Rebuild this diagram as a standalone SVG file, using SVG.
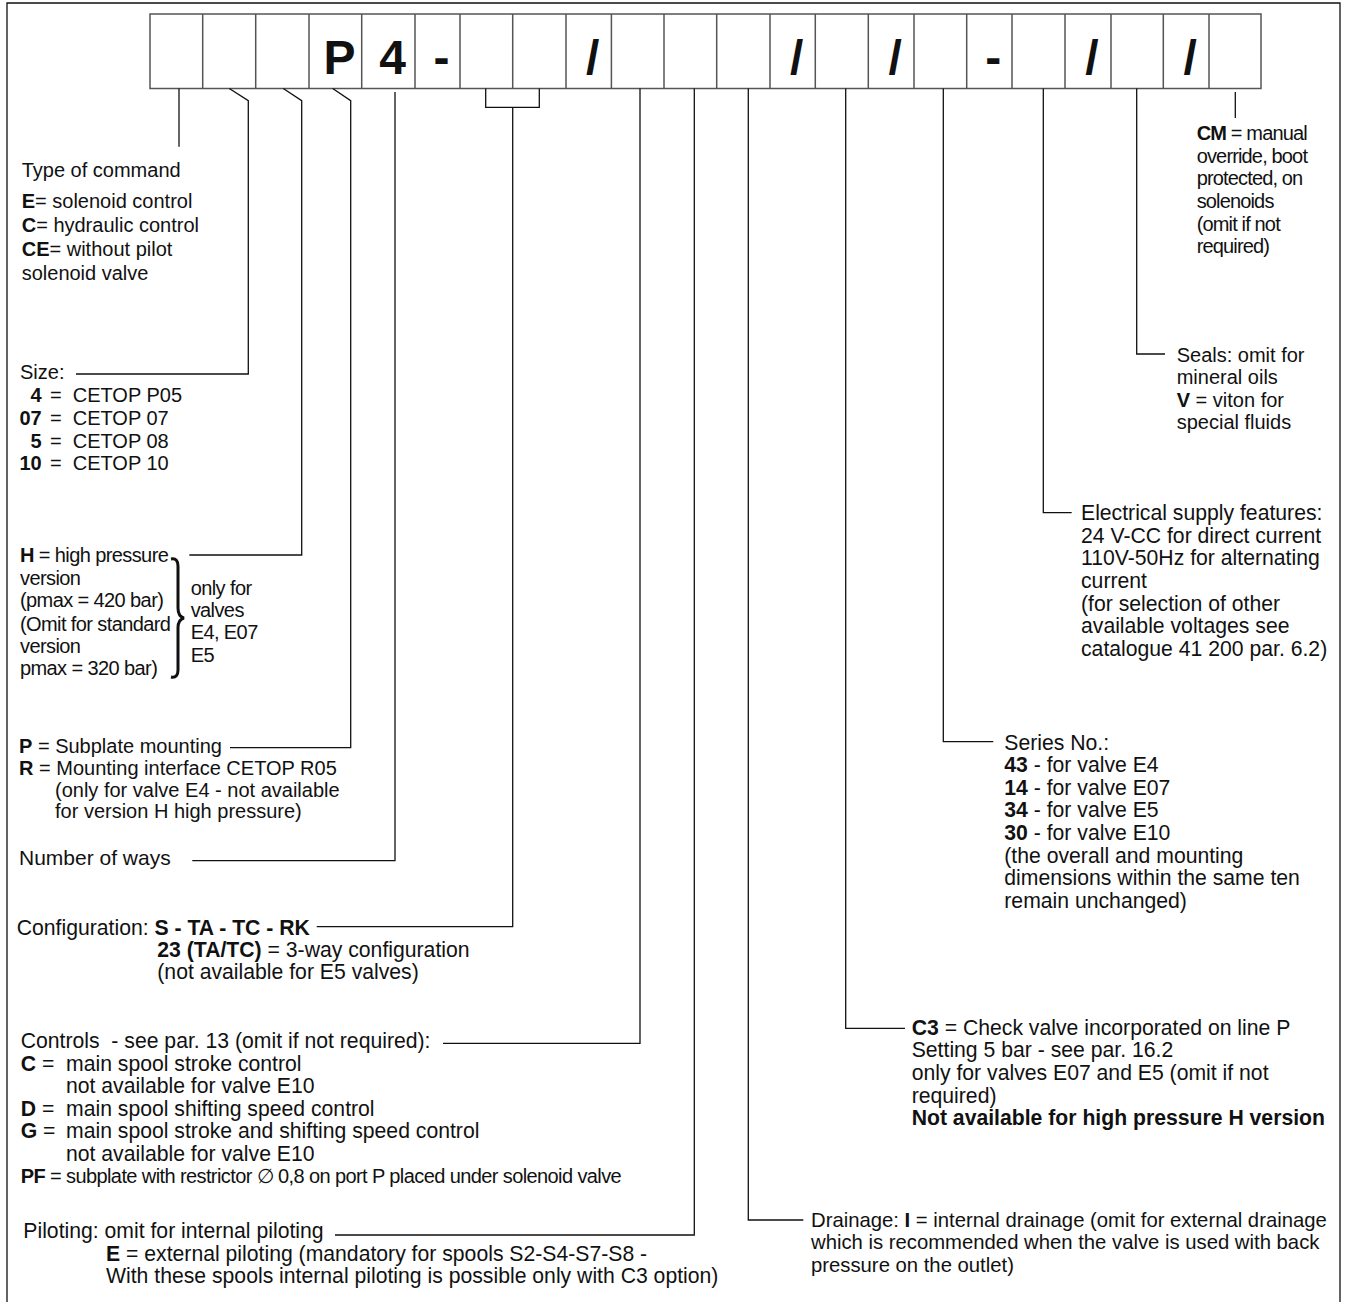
<svg xmlns="http://www.w3.org/2000/svg" width="1345" height="1302" viewBox="0 0 1345 1302">
<style>
text{font-family:"Liberation Sans",Arial,Helvetica,sans-serif;fill:#111}
.s20{font-size:20px}
.s21{font-size:21.2px}
.s203{font-size:20.3px}
.cn{font-size:20px;letter-spacing:-0.6px}
.cm{font-size:20px;letter-spacing:-0.85px}
.b{font-weight:bold}
.ln{stroke:#111;stroke-width:1.3;fill:none}
.box{stroke:#555;stroke-width:1.5;fill:none}
.sym{font-size:48px;font-weight:bold;text-anchor:middle}
</style>
<rect width="1345" height="1302" fill="#fff"/>
<g id="frame">
<path class="ln" d="M7,1302 V3 H1340 V1302"/>
</g>
<g id="code-box">
<rect class="box" x="150" y="14" width="1111" height="74.5"/>
<path class="box" d="M202.7,14V88.5M255.7,14V88.5M309,14V88.5M361.7,14V88.5M415,14V88.5M460,14V88.5M512.7,14V88.5M566,14V88.5M611.4,14V88.5M664,14V88.5M716.7,14V88.5M770,14V88.5M815.3,14V88.5M868.3,14V88.5M914,14V88.5M966.7,14V88.5M1012,14V88.5M1065,14V88.5M1111,14V88.5M1163.3,14V88.5M1209,14V88.5"/>
<text class="sym" x="339.5" y="73.5">P</text>
<text class="sym" x="392.5" y="73.5">4</text>
<text class="sym" x="441.5" y="73.5">-</text>
<text class="sym" x="592.7" y="73.5">/</text>
<text class="sym" x="796.7" y="73.5">/</text>
<text class="sym" x="895.2" y="73.5">/</text>
<text class="sym" x="993.3" y="73.5">-</text>
<text class="sym" x="1092" y="73.5">/</text>
<text class="sym" x="1190.2" y="73.5">/</text>
</g>
<g id="connectors">
<path class="ln" d="M179,88.5V146.7"/>
<path class="ln" d="M229.3,88.5L248.3,100.7V374H76"/>
<path class="ln" d="M283.3,88.5L301.7,100.7V555H189.3"/>
<path class="ln" d="M332.7,88.5L350.7,100.7V747.7H230"/>
<path class="ln" d="M395,92V860.7H192.3"/>
<path class="ln" d="M485.7,88.5V107.3H539.3V88.5M512.7,107.3V926.7H316.7"/>
<path class="ln" d="M640,88.5V1043.3H443"/>
<path class="ln" d="M694.3,88.5V1235H335"/>
<path class="ln" d="M748.3,88.5V1220H803.3"/>
<path class="ln" d="M845.7,88.5V1028.3H905"/>
<path class="ln" d="M943.3,88.5V741.7H993.3"/>
<path class="ln" d="M1043.3,88.5V512.7H1071.7"/>
<path class="ln" d="M1136.7,88.5V354H1165"/>
<path class="ln" d="M1235.3,92V118"/>
</g>
<g id="n-type">
<text class="s20" x="21.7" y="177">Type of command</text>
<text class="s20" x="21.7" y="208.3"><tspan class="b">E</tspan>= solenoid control</text>
<text class="s20" x="21.7" y="232.3"><tspan class="b">C</tspan>= hydraulic control</text>
<text class="s20" x="21.7" y="256"><tspan class="b">CE</tspan>= without pilot</text>
<text class="s20" x="21.7" y="280">solenoid valve</text>
</g>
<g id="n-size">
<text class="s20" x="20" y="379.3">Size:</text>
<g class="s20">
<text class="s20 b" x="41.7" y="402.3" text-anchor="end">4</text>
<text class="s20 b" x="41.7" y="425" text-anchor="end">07</text>
<text class="s20 b" x="41.7" y="447.7" text-anchor="end">5</text>
<text class="s20 b" x="41.7" y="470" text-anchor="end">10</text>
<text class="s20" x="50" y="402.3">=</text>
<text class="s20" x="50" y="425">=</text>
<text class="s20" x="50" y="447.7">=</text>
<text class="s20" x="50" y="470">=</text>
<text class="s20" x="72.7" y="402.3">CETOP P05</text>
<text class="s20" x="72.7" y="425">CETOP 07</text>
<text class="s20" x="72.7" y="447.7">CETOP 08</text>
<text class="s20" x="72.7" y="470">CETOP 10</text>
</g>
</g>
<g id="n-pressure">
<text class="cn" x="20" y="561.7"><tspan class="b">H</tspan> = high pressure</text>
<text class="cn" x="20" y="585">version</text>
<text class="cn" x="20" y="606.7">(pmax = 420 bar)</text>
<text class="cn" x="20" y="631">(Omit for standard</text>
<text class="cn" x="20" y="652.7">version</text>
<text class="cn" x="20" y="675">pmax = 320 bar)</text>
<path d="M171,559 C176,558 178,561 178,566 L178,608 C178,614 180,617 184,618 C180,619 178,622 178,628 L178,670 C178,675 176,678 171,677" fill="none" stroke="#111" stroke-width="3"/>
<text class="cn" x="190.7" y="595">only for</text>
<text class="cn" x="190.7" y="616.7">valves</text>
<text class="cn" x="190.7" y="639.3">E4, E07</text>
<text class="cn" x="190.7" y="661.7">E5</text>
</g>
<g id="n-mounting">
<text class="s20" x="19" y="753.3"><tspan class="b">P</tspan> = Subplate mounting</text>
<text class="s20" x="19" y="775"><tspan class="b">R</tspan> = Mounting interface CETOP R05</text>
<text class="s20" x="55" y="796.7">(only for valve E4 - not available</text>
<text class="s20" x="55" y="818.3">for version H high pressure)</text>
</g>
<g id="n-ways">
<text style="font-size:21px" x="19" y="865">Number of ways</text>
</g>
<g id="n-config">
<text class="s21" x="16.7" y="935">Configuration: <tspan class="b">S - TA - TC - RK</tspan></text>
<text class="s21" x="157.3" y="957.3"><tspan class="b">23 (TA/TC)</tspan> = 3-way configuration</text>
<text class="s21" x="157.3" y="979.3">(not available for E5 valves)</text>
</g>
<g id="n-controls">
<text class="s21" x="20.7" y="1048.3">Controls&#160; - see par. 13 (omit if not required):</text>
<text class="s21" x="20.7" y="1070.7"><tspan class="b">C</tspan> =</text>
<text class="s21" x="66" y="1070.7">main spool stroke control</text>
<text class="s21" x="66" y="1093.3">not available for valve E10</text>
<text class="s21" x="20.7" y="1115.7"><tspan class="b">D</tspan> =</text>
<text class="s21" x="66" y="1115.7">main spool shifting speed control</text>
<text class="s21" x="20.7" y="1138.3"><tspan class="b">G</tspan> =</text>
<text class="s21" x="66" y="1138.3">main spool stroke and shifting speed control</text>
<text class="s21" x="66" y="1161">not available for valve E10</text>
<text class="cn" x="20.7" y="1183.3"><tspan class="b">PF</tspan> = subplate with restrictor ∅ 0,8 on port P placed under solenoid valve</text>
</g>
<g id="n-piloting">
<text class="s21" x="23.3" y="1238.3">Piloting: omit for internal piloting</text>
<text class="s21" x="106" y="1260.7"><tspan class="b">E</tspan> = external piloting (mandatory for spools S2-S4-S7-S8 -</text>
<text class="s21" x="106" y="1283.3">With these spools internal piloting is possible only with C3 option)</text>
</g>
<g id="n-drainage">
<text class="s203" x="811" y="1226.7">Drainage: <tspan class="b">I</tspan> = internal drainage (omit for external drainage</text>
<text class="s203" x="811" y="1249.3">which is recommended when the valve is used with back</text>
<text class="s203" x="811" y="1272.3">pressure on the outlet)</text>
</g>
<g id="n-checkvalve">
<text class="s21" x="911.7" y="1035"><tspan class="b">C3</tspan> = Check valve incorporated on line P</text>
<text class="s21" x="911.7" y="1056.7">Setting 5 bar - see par. 16.2</text>
<text class="s21" x="911.7" y="1080">only for valves E07 and E5 (omit if not</text>
<text class="s21" x="911.7" y="1102.7">required)</text>
<text class="s21 b" x="911.7" y="1125">Not available for high pressure H version</text>
</g>
<g id="n-series">
<text class="s21" x="1004.3" y="750">Series No.:</text>
<text class="s21" x="1004.3" y="772.3"><tspan class="b">43</tspan> - for valve E4</text>
<text class="s21" x="1004.3" y="795"><tspan class="b">14</tspan> - for valve E07</text>
<text class="s21" x="1004.3" y="817.3"><tspan class="b">34</tspan> - for valve E5</text>
<text class="s21" x="1004.3" y="840"><tspan class="b">30</tspan> - for valve E10</text>
<text class="s21" x="1004.3" y="862.7">(the overall and mounting</text>
<text class="s21" x="1004.3" y="885">dimensions within the same ten</text>
<text class="s21" x="1004.3" y="907.7">remain unchanged)</text>
</g>
<g id="n-electrical">
<text class="s21" x="1081" y="520">Electrical supply features:</text>
<text class="s21" x="1081" y="542.7">24 V-CC for direct current</text>
<text class="s21" x="1081" y="565">110V-50Hz for alternating</text>
<text class="s21" x="1081" y="588.3">current</text>
<text class="s21" x="1081" y="611">(for selection of other</text>
<text class="s21" x="1081" y="633.3">available voltages see</text>
<text class="s21" x="1081" y="656">catalogue 41 200 par. 6.2)</text>
</g>
<g id="n-seals">
<text class="s20" x="1176.7" y="361.7">Seals: omit for</text>
<text class="s20" x="1176.7" y="384.3">mineral oils</text>
<text class="s20" x="1176.7" y="406.7"><tspan class="b">V</tspan> = viton for</text>
<text class="s20" x="1176.7" y="429.3">special fluids</text>
</g>
<g id="n-override">
<text class="cm" x="1196.7" y="140"><tspan class="b">CM</tspan> = manual</text>
<text class="cm" x="1196.7" y="162.7">override, boot</text>
<text class="cm" x="1196.7" y="185.3">protected, on</text>
<text class="cm" x="1196.7" y="208.3">solenoids</text>
<text class="cm" x="1196.7" y="231">(omit if not</text>
<text class="cm" x="1196.7" y="253.3">required)</text>
</g>
</svg>
